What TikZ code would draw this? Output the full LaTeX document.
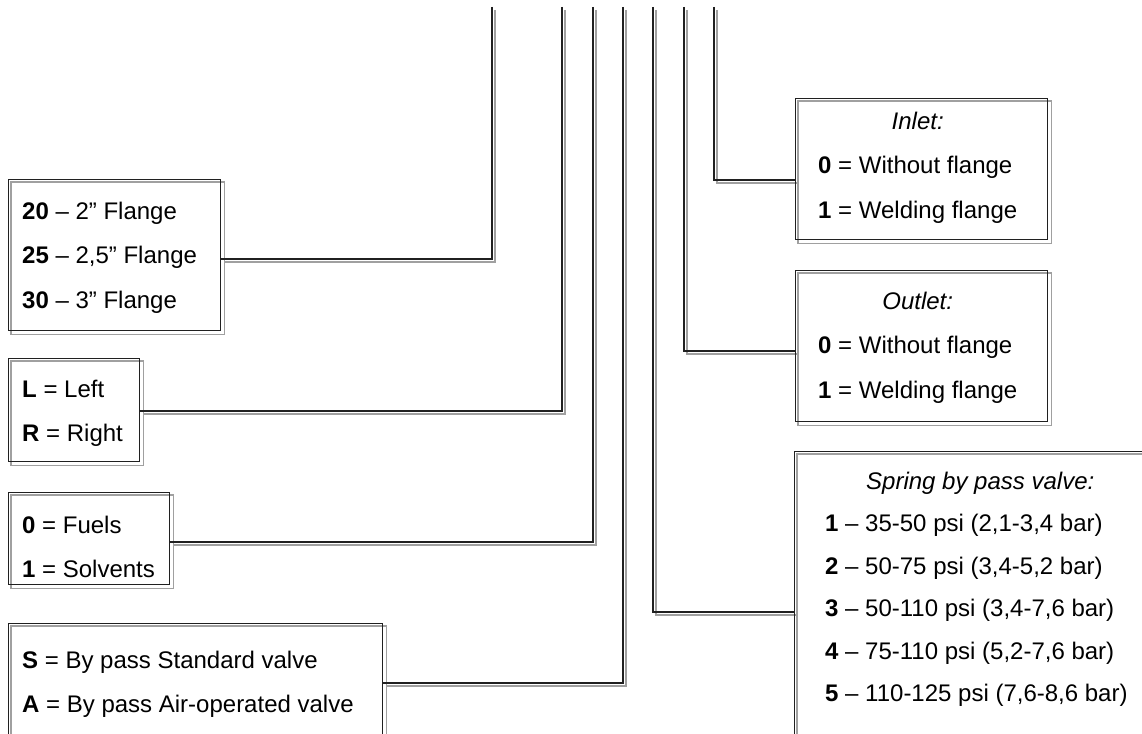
\documentclass[tikz,border=0pt]{standalone}
\usepackage{fontspec}
\setmainfont{Liberation Sans}
\usetikzlibrary{calc}
\pgfdeclarelayer{bg}
\pgfsetlayers{bg,main}
\definecolor{shadowgray}{HTML}{A0A0A0}
\definecolor{linecol}{HTML}{202020}
\tikzset{
  box/.style={draw=linecol, line width=1.3pt, rectangle, inner sep=0pt, anchor=north west},
  conn/.style={draw=linecol, line width=1.3pt},
  shadowline/.style={draw=shadowgray, line width=1.3pt, transform canvas={xshift=3pt,yshift=-3pt}},
  txt/.style={inner sep=0pt, anchor=base west, font=\fontsize{24}{44.5}\selectfont},
  txtsp/.style={inner sep=0pt, anchor=base west, font=\fontsize{24}{42.5}\selectfont}
}
\begin{document}
\begin{tikzpicture}[x=1pt,y=-1pt]
\useasboundingbox (0,0) rectangle (1142,733);
% boxes
\node[box, minimum width=212pt, minimum height=151pt] (b1) at (8,179) {};
\node[box, minimum width=131pt, minimum height=103pt] (b2) at (8,358) {};
\node[box, minimum width=161pt, minimum height=92pt]  (b3) at (8,492) {};
\node[box, minimum width=374pt, minimum height=140pt] (b4) at (8,623) {};
\node[box, minimum width=390pt, minimum height=310pt] (b5) at (794,451) {};
\node[box, minimum width=252pt, minimum height=151pt] (b6) at (795,270) {};
\node[box, minimum width=252pt, minimum height=141pt] (b7) at (795,98) {};
% texts
\node[txt] (x1) at (22,219) {\begin{tabular}[t]{@{}l@{}}
\textbf{20} – 2” Flange\\ \textbf{25} – 2,5” Flange\\ \textbf{30} – 3” Flange\end{tabular}};
\node[txt] (x2) at (22,397) {\begin{tabular}[t]{@{}l@{}}
\textbf{L} = Left\\ \textbf{R} = Right\end{tabular}};
\node[txt] (x3) at (22,533) {\begin{tabular}[t]{@{}l@{}}
\textbf{0} = Fuels\\ \textbf{1} = Solvents\end{tabular}};
\node[txt] (x4) at (22,668) {\begin{tabular}[t]{@{}l@{}}
\textbf{S} = By pass Standard valve\\ \textbf{A} = By pass Air-operated valve\end{tabular}};
\node[txt] (x7) at (818,129) {\begin{tabular}[t]{@{}l@{}}
\multicolumn{1}{@{}c@{}}{\textit{Inlet:}}\\ \textbf{0} = Without flange\\ \textbf{1} = Welding flange\end{tabular}};
\node[txt] (x6) at (818,309) {\begin{tabular}[t]{@{}l@{}}
\multicolumn{1}{@{}c@{}}{\textit{Outlet:}}\\ \textbf{0} = Without flange\\ \textbf{1} = Welding flange\end{tabular}};
\node[txtsp] (x5h) at (866,489) {\textit{Spring by pass valve:}};
\node[txtsp] (x5) at (825,531.5) {\begin{tabular}[t]{@{}l@{}}
\textbf{1} – 35-50 psi (2,1-3,4 bar)\\
\textbf{2} – 50-75 psi (3,4-5,2 bar)\\
\textbf{3} – 50-110 psi (3,4-7,6 bar)\\
\textbf{4} – 75-110 psi (5,2-7,6 bar)\\
\textbf{5} – 110-125 psi (7,6-8,6 bar)\end{tabular}};
% connector coordinates
\coordinate (t1) at (492,7); \coordinate (k1) at (492,259);
\coordinate (t2) at (562,7); \coordinate (k2) at (562,411);
\coordinate (t3) at (593,7); \coordinate (k3) at (593,542);
\coordinate (t4) at (623,7); \coordinate (k4) at (623,683);
\coordinate (t5) at (653,7); \coordinate (k5) at (653,612);
\coordinate (t6) at (684,7); \coordinate (k6) at (684,351);
\coordinate (t7) at (714,7); \coordinate (k7) at (714,180);
\foreach \i/\s in {1/east,2/east,3/east,4/east,5/west,6/west,7/west}{
  \begin{pgfonlayer}{bg}
    \draw[shadowline] (t\i) -- (k\i) -- (k\i -| b\i.\s);
    \draw[shadowline] (b\i.north west) rectangle (b\i.south east);
  \end{pgfonlayer}
  \draw[conn] (t\i) -- (k\i) -- (k\i -| b\i.\s);
}
\end{tikzpicture}
\end{document}
